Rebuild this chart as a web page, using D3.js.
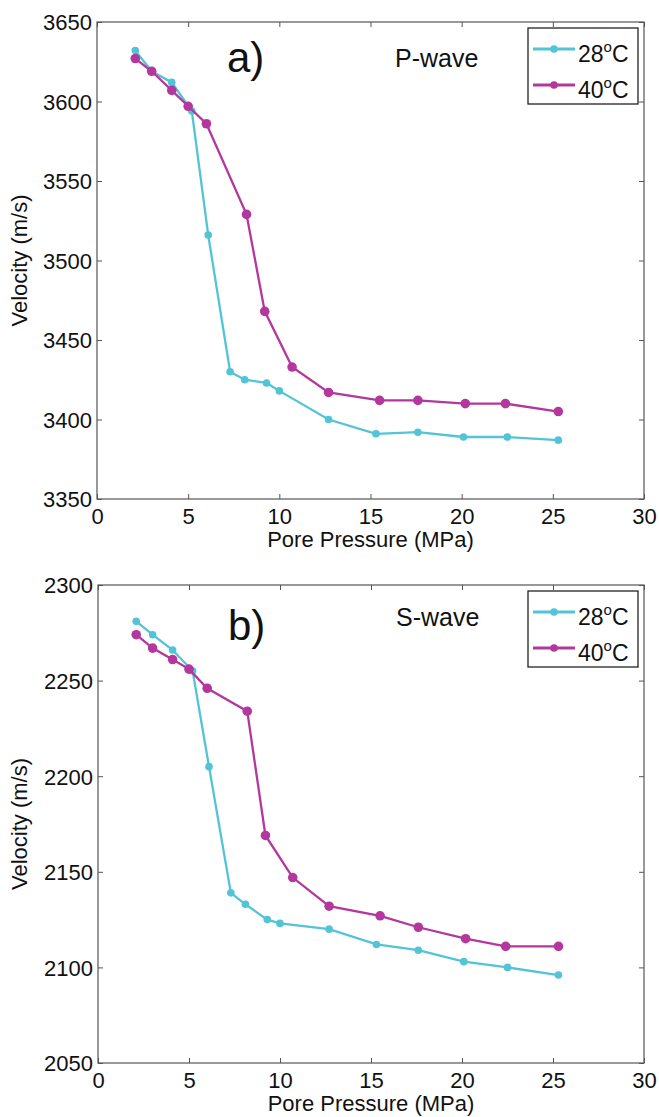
<!DOCTYPE html>
<html lang="en">
  <head>
    <meta charset="UTF-8" />
    <title>velocity-vs-pore-pressure</title>
    <style>
      body { margin: 0; background: #fff; }
      text { font-family: "Liberation Sans", Arial, sans-serif; fill: #111; }
    </style>
  </head>
  <body>
    <svg width="659" height="1117" id="svg"></svg>
    <script src="https://cdn.jsdelivr.net/npm/d3@7"></script>
    <script>
      // pore pressure steps (MPa) for each temperature run
      const pressure28 = [2.1, 3.0, 4.1, 5.2, 6.1, 7.3, 8.1, 9.3, 10.0, 12.7, 15.3, 17.6, 20.1, 22.5, 25.3];
      const pressure40 = [2.1, 3.0, 4.1, 5.0, 6.0, 8.2, 9.2, 10.7, 12.7, 15.5, 17.6, 20.2, 22.4, 25.3];

      // velocities (m/s)
      const pWave28 = [3632, 3619, 3612, 3594, 3516, 3430, 3425, 3423, 3418, 3400, 3391, 3392, 3389, 3389, 3387];
      const pWave40 = [3627, 3619, 3607, 3597, 3586, 3529, 3468, 3433, 3417, 3412, 3412, 3410, 3410, 3405];
      const sWave28 = [2281, 2274, 2266, 2255, 2205, 2139, 2133, 2125, 2123, 2120, 2112, 2109, 2103, 2100, 2096];
      const sWave40 = [2274, 2267, 2261, 2256, 2246, 2234, 2169, 2147, 2132, 2127, 2121, 2115, 2111, 2111];

      const xTicks = [0, 5, 10, 15, 20, 25, 30];
      const pTicks = [3350, 3400, 3450, 3500, 3550, 3600, 3650];
      const sTicks = [2050, 2100, 2150, 2200, 2250, 2300];
      const seriesNames = ["28", "40"];

      const cyan = "#52c4d6";
      const magenta = "#b3379c";
      const axisColor = "#555";

      const svg = d3.select("#svg");

      function drawPanel(opt) {
        const g = svg.append("g");
        const x = d3.scaleLinear().domain([0, 30]).range([opt.left, opt.right]);
        const y = d3.scaleLinear().domain(opt.yDomain).range([opt.bottom, opt.top]);

        // box + inward ticks (matlab look)
        g.append("rect")
          .attr("x", opt.left).attr("y", opt.top)
          .attr("width", opt.right - opt.left).attr("height", opt.bottom - opt.top)
          .attr("fill", "none").attr("stroke", axisColor).attr("stroke-width", 1.2);

        const xAxis = g.append("g")
          .attr("transform", `translate(0,${opt.bottom})`)
          .call(d3.axisBottom(x).tickValues(xTicks).tickSizeInner(-5).tickSizeOuter(0).tickPadding(9));
        const xTop = g.append("g")
          .attr("transform", `translate(0,${opt.top})`)
          .call(d3.axisTop(x).tickValues(xTicks).tickSizeInner(-5).tickSizeOuter(0).tickFormat(""));
        const yAxis = g.append("g")
          .attr("transform", `translate(${opt.left},0)`)
          .call(d3.axisLeft(y).tickValues(opt.yTicks).tickFormat(d3.format("d"))
            .tickSizeInner(-5).tickSizeOuter(0).tickPadding(5));
        const yRight = g.append("g")
          .attr("transform", `translate(${opt.right},0)`)
          .call(d3.axisRight(y).tickValues(opt.yTicks).tickSizeInner(-5).tickSizeOuter(0).tickFormat(""));

        [xAxis, xTop, yAxis, yRight].forEach((a) => {
          a.select(".domain").remove();
          a.selectAll("line").attr("stroke", axisColor);
        });
        xAxis.selectAll("text").attr("font-size", 22).attr("fill", "#111").attr("dy", "0.72em");
        yAxis.selectAll("text").attr("font-size", 22).attr("fill", "#111").attr("dy", "0.36em");

        // titles
        g.append("text")
          .attr("x", (opt.left + opt.right) / 2).attr("y", opt.bottom + 48)
          .attr("text-anchor", "middle").attr("font-size", 22)
          .text("Pore Pressure (MPa)");
        g.append("text")
          .attr("transform", `translate(27,${(opt.top + opt.bottom) / 2}) rotate(-90)`)
          .attr("text-anchor", "middle").attr("font-size", 22)
          .text("Velocity (m/s)");

        g.append("text")
          .attr("x", opt.left + 130).attr("y", opt.top + opt.labelDy)
          .attr("font-size", 42).text(opt.label);
        g.append("text")
          .attr("x", opt.left + 298).attr("y", opt.top + opt.waveDy)
          .attr("font-size", 25).text(opt.wave);

        // series
        const series = [
          { xs: pressure28, ys: opt.v28, color: cyan, r: 3.8 },
          { xs: pressure40, ys: opt.v40, color: magenta, r: 4.8 },
        ];
        const line = d3.line().x((d) => x(d[0])).y((d) => y(d[1]));
        series.forEach((s) => {
          const pts = s.xs.map((p, i) => [p, s.ys[i]]);
          g.append("path")
            .datum(pts)
            .attr("d", line)
            .attr("fill", "none")
            .attr("stroke", s.color)
            .attr("stroke-width", 2.3);
          g.selectAll(null)
            .data(pts)
            .join("circle")
            .attr("cx", (d) => x(d[0]))
            .attr("cy", (d) => y(d[1]))
            .attr("r", s.r)
            .attr("fill", s.color);
        });

        // legend
        const lx = opt.right - 116, ly = opt.top + 6;
        const lg = g.append("g").attr("transform", `translate(${lx},${ly})`);
        lg.append("rect")
          .attr("width", 110).attr("height", 76)
          .attr("fill", "#fff").attr("stroke", "#222").attr("stroke-width", 1.3);
        series.forEach((s, i) => {
          const yy = 21 + i * 36;
          lg.append("line")
            .attr("x1", 5).attr("x2", 47).attr("y1", yy).attr("y2", yy)
            .attr("stroke", s.color).attr("stroke-width", 2.8);
          lg.append("circle").attr("cx", 26).attr("cy", yy).attr("r", 3.8).attr("fill", s.color);
          const t = lg.append("text").attr("x", 50).attr("y", yy + 13).attr("font-size", 23);
          t.append("tspan").text(seriesNames[i]);
          t.append("tspan").attr("dy", -10).attr("font-size", 15).text("o");
          t.append("tspan").attr("dy", 10).text("C");
        });
      }

      drawPanel({
        left: 97, right: 644, top: 22, bottom: 499,
        yDomain: [3350, 3650], yTicks: pTicks,
        v28: pWave28, v40: pWave40,
        label: "a)", labelDy: 50, wave: "P-wave", waveDy: 45,
      });

      drawPanel({
        left: 98, right: 644, top: 585, bottom: 1063,
        yDomain: [2050, 2300], yTicks: sTicks,
        v28: sWave28, v40: sWave40,
        label: "b)", labelDy: 55, wave: "S-wave", waveDy: 41,
      });
    </script>
  </body>
</html>
